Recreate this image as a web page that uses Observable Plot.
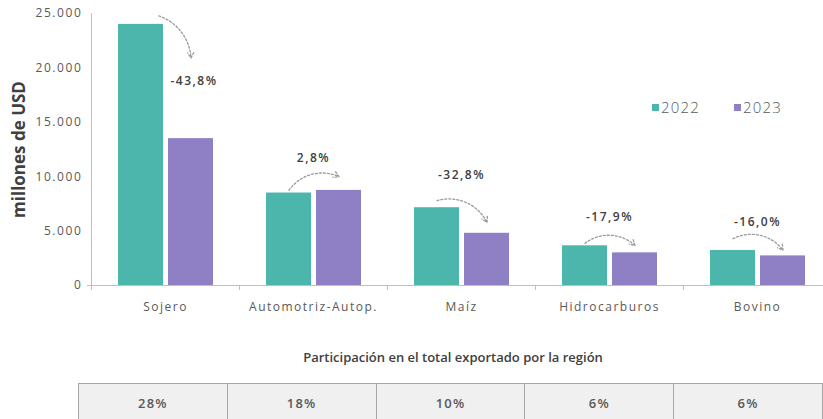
<!DOCTYPE html>
<html><head><meta charset="utf-8">
<script src="https://cdn.jsdelivr.net/npm/d3@7"></script>
<script src="https://cdn.jsdelivr.net/npm/@observablehq/plot@0.6"></script>
<style>
body{margin:0;background:#fff;font-family:"Open Sans",sans-serif;overflow:hidden}
#wrap{position:relative;width:823px;height:419px;overflow:hidden}
#wrap svg{position:absolute;left:0;top:0;overflow:hidden}
g[aria-label="y-axis tick label"] text{letter-spacing:1.6px}
g[aria-label="fx-axis tick label"] text{letter-spacing:1.5px}
g[aria-label="y-axis label"]{font-weight:bold;font-size:17px;fill:#404040}
g[aria-label="text"] text{letter-spacing:1.5px}
#legend{position:absolute;left:652px;top:97px;font-size:15px;color:#595959;font-weight:300;letter-spacing:1.2px;display:flex;gap:34px}
#legend span.sw{display:inline-block;width:7px;height:7px;margin-right:2px;vertical-align:middle;position:relative;top:-1px}
#title{position:absolute;left:78px;width:750px;top:348px;text-align:center;font-size:13px;font-weight:600;color:#404040}
#tbl{position:absolute;left:78px;top:383px;border-collapse:collapse;background:#f0f0f0}
#tbl td{width:148px;height:38px;border:1.5px solid #a6a6a6;text-align:center;font-size:13px;font-weight:600;color:#595959;letter-spacing:1.2px;padding:0}
</style></head><body><div id="wrap"></div>
<script>
const categories = ["Sojero", "Automotriz-Autop.", "Maíz", "Hidrocarburos", "Bovino"];
const years = ["2022", "2023"];
const values2022 = [24000, 8500, 7150, 3650, 3220];
const values2023 = [13500, 8740, 4800, 3000, 2720];
const changeLabels = ["-43,8%", "2,8%", "-32,8%", "-17,9%", "-16,0%"];
const labelY = [18800, 11750, 10100, 6250, 5800];
const arrowStartY = [25000, 8750, 7800, 3880, 4300];
const arrowEndY = [20900, 10000, 5800, 3680, 3250];
const shares = ["28%", "18%", "10%", "6%", "6%"];
const yTicks = [0, 5000, 10000, 15000, 20000, 25000];
const colors = ["#4db6ac", "#8f7fc4"];

const bars = categories.flatMap((c, i) => [
  {cat: c, year: years[0], value: values2022[i]},
  {cat: c, year: years[1], value: values2023[i]}
]);
const notes = categories.map((c, i) => ({
  cat: c, x1: years[0], x2: years[1], y1: arrowStartY[i], y2: arrowEndY[i],
  label: changeLabels[i], ly: labelY[i]
}));
const fmt = d3.formatLocale({decimal: ",", thousands: ".", grouping: [3], currency: ["", ""]}).format(",");
const grey = "#bfbfbf";
const arrowStyle = {stroke: "#9a9a9a", strokeWidth: 1.3, strokeDasharray: "2,2", headLength: 7};

const chart = Plot.plot({
  width: 823, height: 330,
  marginLeft: 91, marginRight: 0, marginTop: 13, marginBottom: 45,
  style: {fontFamily: "Open Sans, sans-serif", overflow: "hidden"},
  fx: {domain: categories, range: [91, 831], padding: 0, label: null},
  x: {domain: years, paddingInner: 0.1, paddingOuter: 0.53, axis: null},
  y: {domain: [0, 25000], label: null},
  color: {domain: years, range: colors},
  marks: [
    Plot.frame({anchor: "left", facet: "super", stroke: grey}),
    Plot.barY(bars, {fx: "cat", x: "year", y: "value", fill: "year"}),
    Plot.ruleY([0], {stroke: grey}),
    Plot.axisY({ticks: yTicks, tickSize: 0, tickPadding: 9, tickFormat: fmt, fill: "#595959", fontSize: 12,
      label: "millones de USD", labelAnchor: "center", labelOffset: 79, labelArrow: "none"}),
    Plot.axisY({ticks: [0], tickSize: 4, tickFormat: () => "", color: grey, label: null}),
    Plot.axisFx({anchor: "bottom", tickSize: 0, tickPadding: 17, fontSize: 12, fill: "#595959", label: null}),
    Plot.axisFx({anchor: "bottom", tickSize: 5, tickFormat: () => "", dx: -74, color: grey, label: null}),
    Plot.arrow(notes.filter(d => d.cat === categories[0]), {fx: "cat", x1: "x1", x2: "x2", y1: "y1", y2: "y2", bend: 45, insetStart: 18, ...arrowStyle}),
    Plot.arrow(notes.filter(d => d.cat !== categories[0]), {fx: "cat", x1: "x1", x2: "x2", y1: "y1", y2: "y2", bend: 40, ...arrowStyle}),
    Plot.text(notes.filter(d => d.cat === categories[0]), {fx: "cat", x: "x2", y: "ly", text: "label", dx: 3, fontSize: 12, fontWeight: 600, fill: "#404040"}),
    Plot.text(notes.filter(d => d.cat !== categories[0]), {fx: "cat", y: "ly", text: "label", frameAnchor: "middle", fontSize: 12, fontWeight: 600, fill: "#404040"})
  ]
});
const wrap = document.getElementById("wrap");
wrap.appendChild(chart);

const legend = document.createElement("div");
legend.id = "legend";
legend.innerHTML = years.map((y, i) => `<div><span class="sw" style="background:${colors[i]}"></span>${y}</div>`).join("");
wrap.appendChild(legend);

const title = document.createElement("div");
title.id = "title";
title.textContent = "Participación en el total exportado por la región";
wrap.appendChild(title);

const tbl = document.createElement("table");
tbl.id = "tbl";
tbl.innerHTML = "<tr>" + shares.map(s => `<td>${s}</td>`).join("") + "</tr>";
wrap.appendChild(tbl);
</script></body></html>
